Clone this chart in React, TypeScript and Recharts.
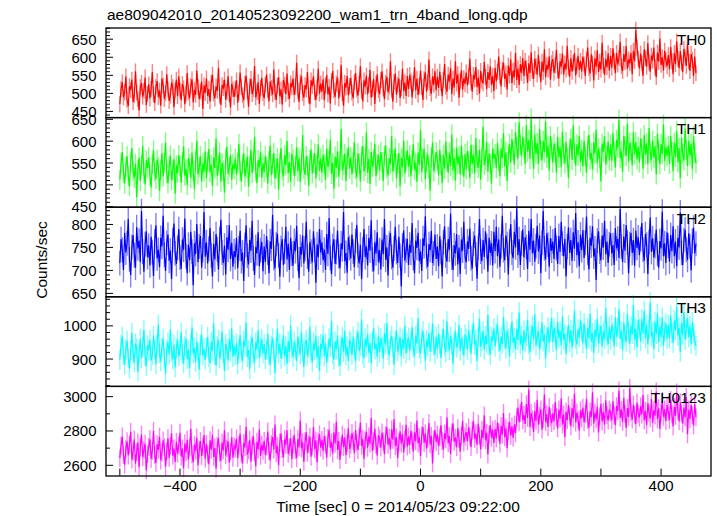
import React from 'react';
import { LineChart, Line, XAxis, YAxis, ErrorBar } from 'recharts';

// light curves, 2 s bins starting at t = -500 s (one row = 48 s)
const TIME_START = -500;
const BIN_SEC = 2;

const TH0 = [
  470, 512, 531, 489, 503, 547, 482, 465, 520, 509, 538, 476, 495, 561, 502, 484, 453, 517, 529, 491, 507, 544, 468, 499,
  525, 486, 512, 559, 497, 473, 518, 534, 490, 508, 466, 541, 522, 485, 500, 553, 511, 479, 494, 530, 517, 462, 509, 538,
  492, 547, 508, 481, 526, 514, 470, 499, 556, 503, 487, 521, 539, 475, 510, 496, 563, 518, 484, 505, 533, 457, 522, 501,
  541, 493, 512, 478, 529, 552, 500, 486, 519, 507, 571, 494, 468, 523, 515, 538, 482, 505, 547, 499, 461, 526, 511, 490,
  513, 536, 474, 502, 558, 517, 495, 481, 527, 549, 506, 463, 520, 540, 498, 512, 576, 489, 504, 531, 471, 516, 543, 500,
  487, 524, 552, 509, 478, 533, 515, 497, 566, 503, 482, 521, 545, 492, 511, 469, 537, 524, 498, 555, 506, 484, 528, 517,
  541, 496, 519, 585, 507, 476, 530, 548, 501, 488, 523, 511, 559, 494, 470, 536, 520, 547, 503, 482, 515, 568, 499, 527,
  505, 539, 481, 522, 551, 497, 518, 472, 534, 562, 508, 490, 527, 544, 486, 513, 579, 501, 466, 529, 516, 548, 495, 520,
  543, 502, 487, 531, 556, 511, 494, 527, 575, 506, 478, 536, 519, 549, 497, 523, 565, 488, 512, 540, 471, 526, 553, 509,
  498, 537, 561, 514, 484, 529, 546, 503, 519, 589, 510, 477, 532, 555, 496, 524, 541, 487, 515, 568, 506, 530, 493, 548,
  512, 551, 534, 489, 527, 572, 508, 541, 496, 520, 563, 517, 482, 539, 558, 505, 531, 594, 515, 499, 547, 524, 561, 508,
  546, 515, 560, 528, 492, 537, 581, 519, 505, 552, 533, 570, 498, 541, 516, 589, 527, 553, 488, 535, 564, 511, 542, 526,
  558, 522, 547, 596, 531, 505, 551, 539, 573, 517, 544, 499, 562, 535, 528, 587, 546, 512, 559, 537, 575, 524, 548, 506,
  571, 534, 560, 602, 547, 519, 566, 585, 540, 555, 511, 577, 549, 594, 528, 563, 545, 612, 537, 569, 523, 581, 556, 598,
  548, 590, 571, 529, 583, 556, 614, 562, 540, 596, 575, 552, 607, 568, 531, 588, 560, 622, 545, 579, 566, 603, 538, 584,
  595, 557, 578, 621, 563, 541, 589, 574, 610, 552, 583, 566, 632, 571, 546, 598, 560, 585, 612, 549, 577, 604, 565, 590,
  561, 602, 580, 548, 593, 627, 570, 555, 608, 583, 536, 597, 574, 619, 559, 588, 566, 640, 578, 551, 596, 572, 611, 563,
  604, 571, 625, 589, 556, 612, 580, 598, 643, 575, 562, 609, 587, 631, 568, 594, 583, 612, 553, 618, 590, 676, 627, 596,
  569, 610, 583, 548, 622, 597, 574, 639, 586, 560, 605, 591, 627, 571, 545, 613, 588, 652, 579, 600, 563, 618, 592, 575,
  606, 567, 628, 589, 553, 612, 581, 644, 596, 570, 617, 585, 559, 623, 599, 576, 637, 588, 562, 609, 593, 548, 602, 556,
];

const TH1 = [
  512, 549, 575, 528, 503, 541, 566, 520, 497, 553, 584, 531, 516, 548, 471, 535, 562, 509, 544, 589, 527, 501, 556, 539,
  563, 522, 494, 547, 579, 530, 513, 558, 541, 486, 535, 572, 519, 550, 597, 526, 504, 542, 567, 511, 533, 559, 480, 545,
  527, 568, 543, 505, 552, 588, 521, 536, 499, 561, 547, 515, 574, 532, 490, 556, 601, 524, 540, 566, 508, 549, 530, 577,
  516, 553, 582, 529, 546, 497, 563, 538, 606, 521, 545, 574, 507, 550, 533, 482, 559, 587, 525, 541, 569, 512, 548, 535,
  560, 523, 551, 594, 532, 508, 547, 572, 519, 538, 565, 496, 543, 580, 527, 554, 610, 531, 504, 557, 540, 576, 516, 549,
  529, 566, 541, 503, 555, 590, 522, 547, 573, 514, 538, 561, 489, 550, 584, 533, 519, 568, 545, 601, 527, 552, 508, 571,
  558, 520, 543, 586, 531, 562, 507, 549, 614, 537, 523, 566, 544, 498, 557, 581, 526, 550, 572, 515, 546, 593, 532, 560,
  527, 569, 548, 512, 583, 541, 556, 603, 525, 550, 491, 565, 539, 577, 518, 554, 628, 533, 545, 571, 509, 560, 586, 537,
  563, 524, 551, 598, 536, 517, 572, 549, 508, 566, 589, 531, 544, 620, 527, 559, 502, 575, 541, 556, 594, 520, 548, 568,
  533, 575, 552, 509, 567, 590, 538, 521, 561, 547, 612, 530, 556, 584, 515, 549, 573, 497, 562, 540, 601, 526, 555, 579,
  541, 568, 519, 556, 593, 534, 551, 507, 574, 546, 625, 529, 560, 583, 513, 552, 570, 538, 486, 563, 597, 531, 549, 575,
  557, 522, 580, 546, 504, 569, 537, 599, 553, 528, 574, 542, 615, 533, 561, 510, 585, 548, 566, 524, 590, 545, 518, 571,
  536, 578, 555, 515, 592, 548, 569, 526, 607, 553, 539, 581, 512, 564, 633, 545, 557, 598, 530, 572, 549, 503, 583, 560,
  571, 538, 596, 554, 520, 583, 561, 618, 542, 575, 509, 567, 594, 551, 605, 578, 546, 621, 587, 559, 643, 592, 566, 610,
  585, 548, 637, 576, 603, 559, 652, 581, 537, 615, 570, 596, 548, 628, 579, 556, 601, 574, 645, 562, 590, 533, 612, 583,
  551, 594, 575, 528, 610, 563, 587, 541, 622, 570, 549, 598, 562, 515, 584, 605, 557, 636, 573, 544, 593, 567, 612, 552,
  580, 542, 601, 566, 527, 589, 614, 558, 573, 535, 597, 571, 626, 550, 583, 562, 508, 594, 576, 611, 547, 568, 599, 556,
  592, 555, 618, 574, 540, 603, 585, 649, 561, 577, 530, 612, 588, 566, 640, 553, 596, 579, 545, 621, 570, 598, 558, 587,
  551, 606, 583, 537, 614, 569, 595, 548, 630, 573, 556, 601, 562, 589, 524, 617, 578, 547, 593, 571, 638, 555, 586, 566,
  590, 548, 612, 575, 531, 597, 564, 623, 552, 584, 515, 608, 571, 556, 629, 580, 543, 601, 567, 594, 536, 611, 573, 549,
];

const TH2 = [
  716, 768, 745, 701, 782, 739, 759, 812, 724, 690, 751, 777, 733, 706, 794, 748, 765, 718, 829, 741, 697, 757, 785, 729,
  754, 711, 773, 740, 688, 763, 798, 726, 745, 707, 771, 752, 819, 734, 699, 760, 778, 721, 743, 681, 766, 802, 737, 714,
  749, 790, 728, 703, 767, 745, 813, 731, 694, 756, 722, 784, 741, 668, 759, 736, 801, 718, 752, 775, 706, 744, 827, 730,
  761, 715, 747, 792, 733, 687, 758, 724, 779, 746, 702, 768, 810, 739, 716, 754, 691, 772, 745, 799, 725, 760, 708, 742,
  729, 771, 705, 748, 786, 720, 739, 677, 755, 798, 732, 713, 766, 743, 808, 726, 690, 751, 737, 783, 709, 744, 762, 698,
  752, 718, 775, 739, 694, 763, 747, 821, 727, 704, 757, 780, 733, 686, 749, 768, 712, 741, 795, 724, 758, 701, 771, 736,
  710, 764, 742, 797, 725, 683, 751, 734, 776, 715, 748, 806, 730, 697, 762, 741, 718, 785, 744, 673, 757, 728, 790, 739,
  761, 722, 745, 701, 779, 736, 814, 727, 692, 753, 768, 714, 740, 787, 731, 705, 759, 746, 827, 720, 738, 695, 772, 749,
  726, 778, 741, 707, 764, 799, 733, 715, 756, 681, 745, 790, 729, 752, 711, 771, 743, 809, 724, 698, 761, 737, 783, 718,
  744, 702, 767, 735, 812, 723, 750, 689, 758, 781, 729, 706, 748, 795, 740, 716, 773, 732, 665, 754, 787, 721, 743, 769,
  712, 756, 738, 803, 727, 694, 765, 749, 782, 720, 741, 699, 770, 753, 818, 731, 708, 757, 744, 786, 716, 737, 778, 725,
  752, 709, 774, 740, 687, 761, 796, 733, 719, 768, 745, 824, 728, 701, 755, 737, 779, 713, 750, 692, 767, 743, 806, 730,
  718, 763, 747, 791, 726, 704, 758, 776, 735, 682, 749, 812, 741, 720, 766, 729, 785, 753, 697, 771, 738, 759, 711, 784,
  742, 795, 731, 767, 708, 753, 819, 744, 722, 776, 757, 691, 763, 801, 739, 727, 784, 750, 835, 733, 768, 712, 759, 789,
  728, 772, 751, 703, 786, 745, 812, 737, 765, 719, 753, 797, 741, 776, 694, 760, 829, 748, 724, 781, 756, 708, 770, 743,
  763, 725, 792, 749, 714, 775, 740, 806, 758, 731, 769, 687, 752, 794, 738, 766, 721, 783, 747, 825, 733, 761, 709, 778,
  744, 788, 727, 760, 817, 739, 702, 771, 754, 796, 730, 748, 679, 765, 785, 741, 722, 776, 750, 808, 735, 763, 716, 757,
  781, 737, 755, 712, 792, 748, 769, 727, 834, 752, 718, 774, 743, 799, 761, 694, 757, 782, 738, 766, 710, 787, 749, 772,
  733, 768, 803, 745, 721, 779, 756, 692, 762, 815, 740, 770, 728, 753, 789, 736, 706, 764, 748, 828, 731, 759, 716, 783,
  754, 719, 777, 742, 796, 731, 763, 709, 771, 750, 826, 738, 712, 766, 789, 745, 723, 781, 752, 700, 764, 793, 737, 758,
];

const TH3 = [
  897, 944, 968, 912, 883, 931, 956, 904, 871, 925, 979, 916, 890, 947, 933, 862, 918, 961, 902, 937, 988, 909, 878, 942,
  926, 959, 895, 913, 970, 931, 884, 946, 1004, 918, 893, 937, 962, 905, 856, 929, 951, 914, 989, 922, 899, 944, 875, 933,
  957, 908, 926, 981, 915, 887, 939, 962, 900, 928, 872, 945, 996, 917, 934, 891, 953, 920, 868, 942, 975, 911, 929, 898,
  935, 967, 906, 888, 951, 924, 1008, 913, 880, 939, 958, 902, 927, 983, 918, 864, 946, 931, 896, 960, 922, 993, 907, 940,
  912, 948, 885, 931, 972, 919, 895, 955, 938, 1011, 906, 927, 870, 943, 966, 914, 889, 951, 929, 987, 904, 936, 960, 917,
  945, 899, 928, 976, 913, 882, 940, 963, 925, 857, 934, 991, 916, 947, 901, 930, 972, 908, 939, 885, 954, 921, 1002, 931,
  906, 952, 929, 894, 968, 937, 915, 983, 922, 876, 944, 958, 910, 933, 997, 918, 891, 950, 927, 971, 903, 939, 865, 946,
  931, 974, 908, 947, 889, 925, 962, 936, 1015, 914, 898, 953, 929, 972, 907, 879, 942, 966, 921, 985, 911, 937, 894, 956,
  949, 912, 968, 931, 893, 957, 982, 924, 940, 1020, 915, 903, 961, 937, 975, 919, 948, 887, 954, 993, 929, 946, 906, 971,
  920, 963, 939, 901, 978, 944, 1009, 927, 911, 956, 970, 935, 882, 951, 987, 923, 942, 966, 908, 960, 931, 1001, 917, 948,
  965, 926, 953, 996, 934, 909, 970, 948, 1024, 931, 916, 962, 985, 943, 895, 958, 937, 979, 922, 951, 1008, 939, 914, 967,
  930, 976, 945, 903, 961, 990, 938, 920, 1014, 952, 927, 969, 944, 886, 957, 983, 935, 948, 1002, 925, 963, 941, 911, 974,
  962, 928, 987, 951, 916, 973, 1009, 943, 958, 894, 966, 1021, 937, 952, 985, 929, 970, 946, 1033, 940, 913, 968, 955, 992,
  938, 979, 1004, 951, 924, 968, 946, 1027, 959, 932, 985, 962, 908, 973, 1012, 949, 965, 930, 991, 957, 1041, 944, 971, 926,
  987, 950, 968, 1019, 945, 921, 976, 999, 958, 1036, 941, 967, 984, 929, 962, 1010, 953, 974, 902, 966, 995, 948, 982, 1024,
  951, 993, 970, 927, 1012, 963, 984, 942, 1029, 958, 976, 915, 968, 1003, 950, 987, 935, 972, 1046, 961, 944, 990, 966, 1017,
  984, 947, 1008, 971, 930, 995, 962, 1037, 953, 979, 918, 989, 966, 1022, 948, 975, 1001, 938, 983, 960, 1054, 971, 945, 997,
  958, 1003, 980, 939, 1026, 967, 994, 1049, 961, 985, 927, 1010, 972, 952, 1035, 983, 946, 1000, 975, 1063, 957, 991, 936, 1018,
  992, 953, 1021, 977, 1046, 962, 1004, 944, 989, 1072, 968, 981, 930, 1013, 975, 1037, 951, 997, 966, 1025, 940, 985, 1008, 960,
  1003, 962, 1031, 978, 949, 1016, 987, 1058, 970, 995, 921, 1009, 973, 1042, 958, 990, 1024, 966, 999, 945, 1012, 978, 957, 940,
];

const TH0123 = [
  2642, 2715, 2768, 2661, 2603, 2694, 2740, 2657, 2719, 2795, 2633, 2682, 2751, 2610, 2677, 2733, 2589, 2705, 2779, 2648, 2690, 2726, 2571, 2665,
  2708, 2752, 2637, 2685, 2801, 2659, 2614, 2723, 2690, 2767, 2628, 2674, 2745, 2706, 2592, 2681, 2758, 2643, 2711, 2786, 2656, 2698, 2620, 2737,
  2669, 2714, 2790, 2651, 2698, 2583, 2727, 2676, 2749, 2632, 2703, 2813, 2664, 2618, 2720, 2685, 2762, 2601, 2693, 2741, 2654, 2709, 2776, 2638,
  2724, 2663, 2607, 2746, 2691, 2778, 2649, 2702, 2580, 2715, 2759, 2670, 2626, 2733, 2687, 2804, 2658, 2699, 2741, 2615, 2680, 2763, 2644, 2712,
  2697, 2756, 2642, 2718, 2783, 2669, 2610, 2731, 2705, 2825, 2662, 2688, 2749, 2621, 2714, 2770, 2678, 2595, 2737, 2692, 2808, 2655, 2720, 2684,
  2742, 2661, 2709, 2797, 2683, 2628, 2724, 2765, 2691, 2838, 2670, 2712, 2601, 2733, 2786, 2695, 2646, 2751, 2719, 2804, 2667, 2705, 2758, 2636,
  2719, 2776, 2688, 2641, 2752, 2705, 2861, 2698, 2734, 2620, 2741, 2793, 2673, 2722, 2767, 2650, 2710, 2823, 2694, 2745, 2617, 2737, 2781, 2703,
  2748, 2684, 2771, 2720, 2645, 2759, 2807, 2701, 2736, 2668, 2792, 2727, 2853, 2689, 2742, 2631, 2713, 2778, 2706, 2761, 2659, 2729, 2816, 2695,
  2721, 2788, 2742, 2670, 2806, 2731, 2689, 2764, 2849, 2713, 2752, 2639, 2747, 2795, 2702, 2768, 2726, 2877, 2684, 2740, 2812, 2719, 2657, 2775,
  2756, 2703, 2791, 2738, 2664, 2777, 2822, 2720, 2759, 2691, 2810, 2749, 2870, 2712, 2765, 2642, 2734, 2798, 2726, 2783, 2675, 2751, 2836, 2709,
  2768, 2719, 2801, 2745, 2680, 2792, 2740, 2861, 2727, 2764, 2654, 2775, 2823, 2731, 2786, 2697, 2757, 2846, 2722, 2771, 2611, 2748, 2806, 2736,
  2779, 2712, 2764, 2835, 2741, 2693, 2786, 2752, 2880, 2729, 2770, 2666, 2792, 2844, 2738, 2761, 2705, 2817, 2754, 2679, 2773, 2859, 2733, 2768,
  2794, 2741, 2822, 2767, 2706, 2801, 2860, 2754, 2785, 2720, 2843, 2773, 2692, 2806, 2758, 2891, 2747, 2789, 2663, 2778, 2835, 2761, 2806, 2730,
  2812, 2757, 2849, 2793, 2726, 2830, 2778, 2905, 2764, 2815, 2699, 2801, 2854, 2772, 2827, 2760, 2838, 2788, 2880, 2936, 2851, 2904, 2970, 2862,
  2893, 2841, 2957, 2876, 3041, 2822, 2905, 2868, 2794, 2916, 2859, 2982, 2837, 2889, 2926, 2808, 2871, 3012, 2852, 2897, 2823, 2940, 2879, 2846,
  2903, 2857, 2968, 2881, 2815, 2924, 2872, 2990, 2838, 2896, 2764, 2912, 2863, 2951, 2889, 2827, 2934, 2874, 3018, 2849, 2907, 2866, 2801, 2920,
  2874, 2936, 2851, 2898, 2987, 2862, 2819, 2915, 2880, 3025, 2843, 2906, 2869, 2942, 2791, 2886, 2958, 2855, 2911, 2837, 2978, 2893, 2860, 2925,
  2907, 2862, 2973, 2890, 2834, 2945, 2916, 3036, 2876, 2925, 2853, 2992, 2899, 2818, 2934, 2882, 3051, 2911, 2866, 2953, 2895, 2840, 2966, 2901,
  2878, 2944, 2896, 3009, 2861, 2918, 2835, 2962, 2904, 2873, 2987, 2847, 2921, 2889, 3030, 2868, 2932, 2812, 2906, 2975, 2883, 2926, 2858, 2951,
  2909, 2864, 2981, 2897, 2826, 2941, 2888, 3024, 2915, 2856, 2967, 2901, 2843, 2936, 2879, 2998, 2781, 2924, 2870, 2951, 2893, 2832, 2957, 2880,
];

const SERIES = [TH0, TH1, TH2, TH3, TH0123];
const PANEL_NAMES = ['TH0', 'TH1', 'TH2', 'TH3', 'TH0123'];
const ERRORS = [22, 23, 27, 30, 52];

const Y_DOMAINS = [[433, 681], [448, 653], [643, 838], [817, 1087], [2540, 3062]];
const Y_LABELS = [
  [450, 500, 550, 600, 650],
  [450, 500, 550, 600, 650],
  [650, 700, 750, 800],
  [900, 1000],
  [2600, 2800, 3000],
];
const Y_MINOR_STEP = [10, 10, 10, 20, 100];

const X_DOMAIN = [-523, 483];
const X_TICKS = [-500, -400, -300, -200, -100, 0, 100, 200, 300, 400];
const X_LABELS = [-400, -200, 0, 200, 400];

const COLORS = ['#ff0000', '#00ff00', '#0000ff', '#00ffff', '#ff00ff'];
const ERR_COLORS = ['#ff8080', '#80ff80', '#8080ff', '#80ffff', '#ff80ff'];

const TITLE = 'ae809042010_20140523092200_wam1_trn_4band_long.qdp';
const Y_TITLE = 'Counts/sec';
const X_TITLE = 'Time [sec] 0 = 2014/05/23 09:22:00';

const FONT = '"Liberation Sans", Arial, Helvetica, sans-serif';
const W = 717;
const TOP = 28;
const PANEL_H = 89.6;
const LEFT = 106;
const RIGHT_M = 6;
const PAD = 12; // room around each panel so tick labels are not cut

const fmt = (v: number) => (v < 0 ? '\u2212' + Math.abs(v) : String(v));

const minorTicks = ([lo, hi]: number[], step: number) => {
  const out: number[] = [];
  for (let v = Math.ceil(lo / step) * step; v <= hi; v += step) out.push(v);
  return out;
};

const App: React.FC = () => {
  return (
    <div style={{ position: 'absolute', left: 0, top: 0, width: W, height: 516, background: '#fff', fontFamily: FONT }}>
      {SERIES.map((values, i) => {
        const rows = values.map((v, k) => ({ t: TIME_START + k * BIN_SEC, v, e: ERRORS[i] }));
        const isLast = i === SERIES.length - 1;
        const yTicks = minorTicks(Y_DOMAINS[i], Y_MINOR_STEP[i]);
        const labels = Y_LABELS[i];
        return (
          <div key={i} style={{ position: 'absolute', left: 0, top: TOP + i * PANEL_H - PAD }}>
            <LineChart
              width={W}
              height={PANEL_H + PAD + (isLast ? 40 : PAD)}
              data={rows}
              margin={{ top: PAD, right: RIGHT_M, bottom: isLast ? 0 : PAD, left: 0 }}
            >
              <XAxis
                xAxisId="b"
                dataKey="t"
                type="number"
                domain={X_DOMAIN}
                allowDataOverflow
                ticks={X_TICKS}
                interval={0}
                height={isLast ? 40 : 0}
                tickSize={0}
                tickMargin={0}
                tickLine={false}
                axisLine={false}
                tick={(p: any) => (
                  <g>
                    <line x1={p.x} x2={p.x} y1={p.y} y2={p.y - 7} stroke="#000" />
                    {isLast && X_LABELS.includes(p.payload.value) && (
                      <text x={p.x} y={p.y + 15.5} textAnchor="middle" fontSize={15} fontFamily={FONT} fill="#000">
                        {fmt(p.payload.value)}
                      </text>
                    )}
                  </g>
                )}
              />
              <XAxis
                xAxisId="t"
                dataKey="t"
                type="number"
                orientation="top"
                domain={X_DOMAIN}
                allowDataOverflow
                ticks={X_TICKS}
                interval={0}
                height={0}
                tickSize={0}
                tickMargin={0}
                tickLine={false}
                axisLine={false}
                tick={(p: any) => <line x1={p.x} x2={p.x} y1={p.y} y2={p.y + 7} stroke="#000" />}
              />
              <YAxis
                yAxisId="l"
                type="number"
                domain={Y_DOMAINS[i]}
                allowDataOverflow
                ticks={yTicks}
                interval={0}
                width={LEFT}
                tickSize={0}
                tickMargin={0}
                tickLine={false}
                axisLine={false}
                tick={(p: any) => {
                  const major = labels.includes(p.payload.value);
                  return (
                    <g>
                      <line x1={p.x} x2={p.x + (major ? 7 : 4)} y1={p.y} y2={p.y} stroke="#000" />
                      {major && (
                        <text x={p.x - 9.5} y={p.y + 5.5} textAnchor="end" fontSize={15} fontFamily={FONT} fill="#000">
                          {p.payload.value}
                        </text>
                      )}
                    </g>
                  );
                }}
              />
              <YAxis
                yAxisId="r"
                type="number"
                orientation="right"
                domain={Y_DOMAINS[i]}
                allowDataOverflow
                ticks={yTicks}
                interval={0}
                width={0}
                tickSize={0}
                tickMargin={0}
                tickLine={false}
                axisLine={false}
                tick={(p: any) => {
                  const major = labels.includes(p.payload.value);
                  return <line x1={p.x} x2={p.x - (major ? 7 : 4)} y1={p.y} y2={p.y} stroke="#000" />;
                }}
              />
              <Line
                xAxisId="b"
                yAxisId="l"
                dataKey="v"
                stroke="none"
                dot={false}
                activeDot={false}
                isAnimationActive={false}
              >
                <ErrorBar dataKey="e" direction="y" width={0} stroke={ERR_COLORS[i]} strokeWidth={1.4} isAnimationActive={false} />
              </Line>
              <Line
                xAxisId="b"
                yAxisId="l"
                dataKey="v"
                type="linear"
                stroke={COLORS[i]}
                strokeWidth={1.2}
                dot={false}
                activeDot={false}
                isAnimationActive={false}
              />
            </LineChart>
          </div>
        );
      })}
      <svg width={W} height={516} style={{ position: 'absolute', left: 0, top: 0, pointerEvents: 'none' }}>
        {PANEL_NAMES.map((name, i) => (
          <rect
            key={name + '-frame'}
            x={LEFT}
            y={TOP + i * PANEL_H}
            width={W - RIGHT_M - LEFT}
            height={PANEL_H}
            fill="none"
            stroke="#000"
            strokeWidth={1.3}
          />
        ))}
        <text x={107} y={20} fontSize={15.5} fontFamily={FONT} fill="#000">{TITLE}</text>
        <text
          transform="translate(47,260) rotate(-90)"
          textAnchor="middle"
          fontSize={15.5}
          fontFamily={FONT}
          fill="#000"
        >
          {Y_TITLE}
        </text>
        <text x={398} y={512} textAnchor="middle" fontSize={15.5} fontFamily={FONT} fill="#000">{X_TITLE}</text>
        {PANEL_NAMES.map((name, i) => (
          <text key={name} x={706} y={TOP + i * PANEL_H + 16.5} textAnchor="end" fontSize={15.5} fontFamily={FONT} fill="#000">
            {name}
          </text>
        ))}
      </svg>
    </div>
  );
};

export default App;
